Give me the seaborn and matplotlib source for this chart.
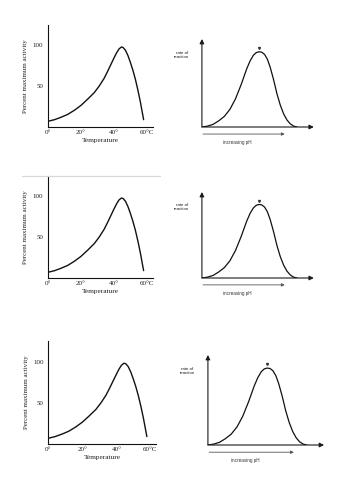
import seaborn as sns
import matplotlib.pyplot as plt
import pandas as pd
from matplotlib.lines import Line2D

# 温度と酵素活性
temp = [0, 4, 8, 12, 16, 20, 24, 28, 31, 34, 36, 38, 40, 41.5, 43, 44.5, 45.5,
        47, 48.5, 50, 51.5, 53, 54.5, 56, 57, 58]
activity = [7, 9, 12, 15.5, 20.5, 26.5, 34, 42, 50, 59.5, 67.5, 76, 84.5, 90.5, 95.5, 98, 97.5,
            94, 87.5, 79, 69.5, 58.5, 45.5, 31, 20, 9]
temp_ticks = [0, 20, 40, 60]
temp_labels = ['0°', '20°', '40°', '60°C']
act_ticks = [50, 100]

# pH と反応速度（任意単位）
ph = [0, 0.5, 1.0, 1.5, 2.0, 2.5, 3.0, 3.5, 4.0, 4.3, 4.6, 4.85, 5.1, 5.35, 5.6,
      5.85, 6.1, 6.4, 6.7, 7.0, 7.3, 7.6, 7.9, 8.2, 8.5]
rate = [0, 0.1, 0.3, 0.7, 1.2, 2.0, 3.2, 4.8, 6.6, 7.5, 8.15, 8.45, 8.55, 8.5, 8.25,
        7.7, 6.8, 5.4, 3.8, 2.5, 1.5, 0.8, 0.35, 0.1, 0]
ph_peak = 5.1

df_t = pd.DataFrame({'temp': temp, 'activity': activity})
df_p = pd.DataFrame({'ph': ph, 'rate': rate})

sns.set_theme(style='white')
plt.rcParams['font.family'] = ['Liberation Serif', 'DejaVu Serif']

fig = plt.figure(figsize=(3.53, 5.0), dpi=100)

# 各段の位置（図の割合）
left_pos = [[0.136, 0.746, 0.297, 0.204],
            [0.136, 0.444, 0.297, 0.204],
            [0.137, 0.112, 0.306, 0.206]]
right_pos = [[0.572, 0.746, 0.317, 0.176],
             [0.572, 0.444, 0.317, 0.172],
             [0.589, 0.110, 0.329, 0.180]]

for lp, rp in zip(left_pos, right_pos):
    # 温度グラフ
    ax = fig.add_axes(lp)
    sns.lineplot(data=df_t, x='temp', y='activity', ax=ax, color='#111111',
                 lw=1.0, estimator=None, sort=False)
    ax.set_xlim(0, 63.6)
    ax.set_ylim(0, 125)
    for s in ['top', 'right']:
        ax.spines[s].set_visible(False)
    for s in ['left', 'bottom']:
        ax.spines[s].set_color('#111111')
        ax.spines[s].set_linewidth(0.8)
    ax.set_xticks(temp_ticks)
    ax.set_xticklabels(temp_labels)
    ax.set_yticks(act_ticks)
    ax.tick_params(axis='x', direction='in', length=2, width=0.6, labelsize=5,
                   pad=2, colors='#222222')
    ax.tick_params(axis='y', direction='out', length=2, width=0.6, labelsize=5,
                   pad=1.5, colors='#222222')
    ax.set_xlabel('Temperature', fontsize=5.3, labelpad=2, color='#222222')
    ax.set_ylabel('Percent maximum activity', fontsize=5, labelpad=3,
                  color='#222222')

    # pH グラフ
    bx = fig.add_axes(rp)
    sns.lineplot(data=df_p, x='ph', y='rate', ax=bx, color='#111111',
                 lw=0.9, estimator=None, sort=False)
    bx.set_xlim(0, 10)
    bx.set_ylim(0, 10)
    bx.axis('off')
    arr = dict(arrowstyle='-|>', lw=0.8, color='k', mutation_scale=6.5,
               shrinkA=0, shrinkB=0)
    bx.annotate('', xy=(0, 10), xytext=(0, 0), arrowprops=arr,
                annotation_clip=False)
    bx.annotate('', xy=(10, 0), xytext=(0, 0), arrowprops=arr,
                annotation_clip=False)
    bx.annotate('', xy=(7.4, -0.8), xytext=(0.1, -0.8),
                arrowprops=dict(arrowstyle='-|>', lw=0.6, color='#555555',
                                mutation_scale=4.5, shrinkA=0, shrinkB=0),
                annotation_clip=False)
    bx.text(3.2, -1.75, 'increasing pH', fontsize=3.3, ha='center', va='center',
            color='#333333', family=['Liberation Sans', 'DejaVu Sans'])
    bx.text(-1.8, 8.2, 'rate of\nreaction', fontsize=3.2, ha='center',
            va='center', color='#222222', linespacing=1.0,
            family=['Liberation Sans', 'DejaVu Sans'])
    bx.plot([ph_peak], [8.95], marker='v', ms=1.4, color='#333333',
            clip_on=False)

# スキャンのページ端の線
fig.add_artist(Line2D([22 / 353, 160 / 353], [1 - 176 / 500, 1 - 176 / 500],
                      color='#d8d8d8', lw=0.9))

fig.savefig('out.png', dpi=100)
